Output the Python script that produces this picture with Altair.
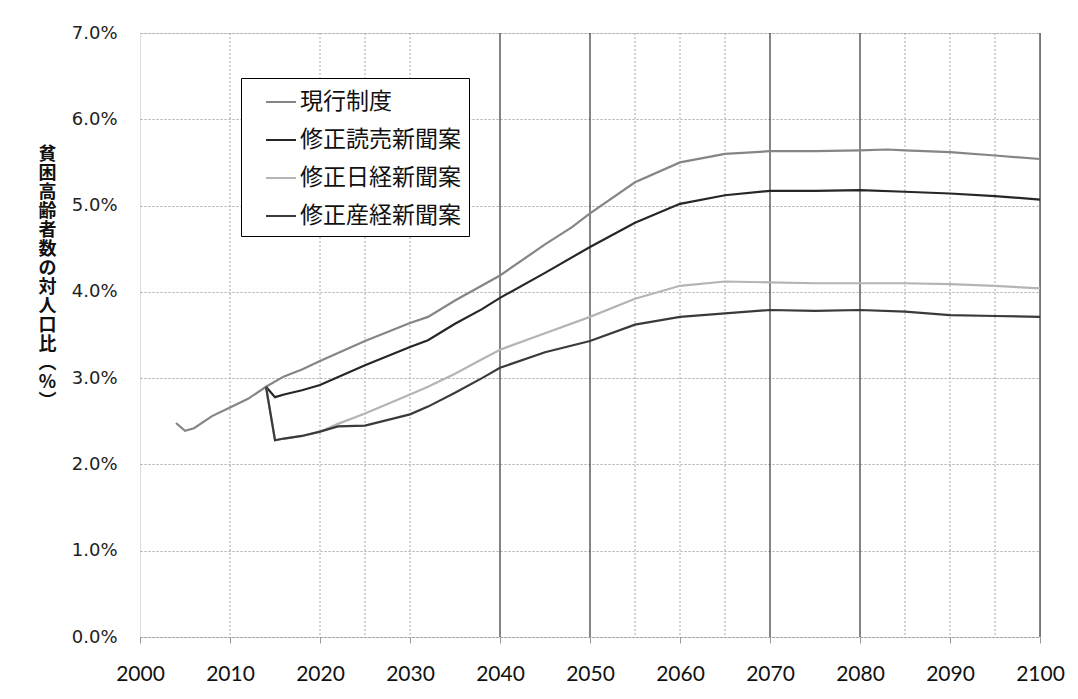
import altair as alt
import pandas as pd

series_names = ["現行制度", "修正読売新聞案", "修正日経新聞案", "修正産経新聞案"]
series_colors = ["#858585", "#262626", "#b4b4b4", "#3a3a3a"]

current_years = [2004, 2005, 2006, 2008, 2010, 2012, 2014, 2016, 2018, 2020, 2025, 2030, 2032, 2035,
                 2040, 2045, 2048, 2050, 2055, 2060, 2065, 2070, 2075, 2080, 2083, 2085, 2090, 2095, 2100]
current_vals = [2.48, 2.39, 2.42, 2.56, 2.66, 2.76, 2.90, 3.02, 3.10, 3.20, 3.43, 3.64, 3.71, 3.90,
                4.19, 4.55, 4.75, 4.91, 5.27, 5.50, 5.60, 5.63, 5.63, 5.64, 5.65, 5.64, 5.62, 5.58, 5.54]

yomiuri_years = [2014, 2015, 2016, 2018, 2020, 2025, 2030, 2032, 2035, 2038, 2040, 2045, 2050,
                 2055, 2060, 2065, 2070, 2075, 2080, 2085, 2090, 2095, 2100]
yomiuri_vals = [2.90, 2.78, 2.81, 2.86, 2.92, 3.15, 3.36, 3.44, 3.63, 3.80, 3.93, 4.22, 4.52,
                4.80, 5.02, 5.12, 5.17, 5.17, 5.18, 5.16, 5.14, 5.11, 5.07]

nikkei_years = [2014, 2015, 2016, 2018, 2020, 2022, 2025, 2030, 2032, 2035, 2038, 2040, 2045, 2050,
                2055, 2060, 2065, 2070, 2075, 2080, 2085, 2090, 2095, 2100]
nikkei_vals = [2.90, 2.28, 2.30, 2.33, 2.38, 2.47, 2.59, 2.81, 2.90, 3.05, 3.22, 3.33, 3.52, 3.71,
               3.92, 4.07, 4.12, 4.11, 4.10, 4.10, 4.10, 4.09, 4.07, 4.04]

sankei_years = [2014, 2015, 2016, 2018, 2020, 2022, 2025, 2030, 2032, 2035, 2038, 2040, 2045, 2050,
                2055, 2060, 2065, 2070, 2075, 2080, 2085, 2090, 2095, 2100]
sankei_vals = [2.90, 2.28, 2.30, 2.33, 2.38, 2.44, 2.45, 2.58, 2.67, 2.83, 3.00, 3.12, 3.30, 3.43,
               3.62, 3.71, 3.75, 3.79, 3.78, 3.79, 3.77, 3.73, 3.72, 3.71]

x_ticks = [2000, 2010, 2020, 2030, 2040, 2050, 2060, 2070, 2080, 2090, 2100]
y_ticks = [0, 1, 2, 3, 4, 5, 6, 7]
grid_light_years = [2010, 2020, 2025, 2030, 2055, 2060, 2065, 2085, 2090, 2095]
grid_dark_years = [2040, 2050, 2070, 2080, 2100]

y_title = list("貧困高齢者数の対人口比") + ["︵", "%", "︶"]

rows = []
for name, ys, vs in [
    (series_names[0], current_years, current_vals),
    (series_names[1], yomiuri_years, yomiuri_vals),
    (series_names[2], nikkei_years, nikkei_vals),
    (series_names[3], sankei_years, sankei_vals),
]:
    for y, v in zip(ys, vs):
        rows.append({"series": name, "year": y, "value": v})
df = pd.DataFrame(rows)

x_scale = alt.Scale(domain=[2000, 2100], nice=False, zero=False)
y_scale = alt.Scale(domain=[0, 7], nice=False)

light_grid = alt.Chart(pd.DataFrame({"year": grid_light_years})).mark_rule(
    color="#a8a8a8", strokeWidth=1, strokeDash=[2, 2]
).encode(x=alt.X("year:Q", scale=x_scale))

dark_grid = alt.Chart(pd.DataFrame({"year": grid_dark_years})).mark_rule(
    color="#333333", strokeWidth=1.2
).encode(x=alt.X("year:Q", scale=x_scale))

lines = alt.Chart(df).mark_line(strokeWidth=2.2).encode(
    x=alt.X(
        "year:Q",
        scale=x_scale,
        axis=alt.Axis(
            values=x_ticks,
            format="d",
            title=None,
            grid=False,
            labelFont="Lato",
            labelFontSize=21,
            labelColor="#111",
            labelPadding=20,
            tickSize=6,
            tickColor="#999",
            domainColor="#999",
            domainDash=[2, 2],
            labelFlush=False,
        ),
    ),
    y=alt.Y(
        "value:Q",
        scale=y_scale,
        axis=alt.Axis(
            values=y_ticks,
            labelExpr="format(datum.value, '.1f') + '%'",
            title=y_title,
            titleAngle=0,
            titleAlign="center",
            titleBaseline="top",
            titleX=-93,
            titleY=112,
            titleFont="Noto Sans CJK JP",
            titleFontSize=18,
            titleFontWeight="bold",
            titleLineHeight=19,
            titleColor="#111",
            labelFont="DejaVu Sans",
            labelFontSize=18,
            labelColor="#222",
            labelPadding=23,
            tickSize=0,
            domain=False,
            grid=True,
            gridColor="#aaaaaa",
            gridDash=[2, 2],
            gridWidth=1,
        ),
    ),
    color=alt.Color(
        "series:N",
        scale=alt.Scale(domain=series_names, range=series_colors),
        legend=alt.Legend(
            orient="none",
            legendX=101,
            legendY=45,
            title=None,
            strokeColor="black",
            fillColor="white",
            padding=8,
            symbolType="stroke",
            symbolSize=900,
            symbolStrokeWidth=2,
            symbolOffset=16,
            labelOffset=3,
            labelFont="Noto Sans CJK JP",
            labelFontSize=23,
            labelColor="#111",
            rowPadding=10,
            labelLimit=400,
        ),
    ),
)

chart = alt.layer(light_grid, dark_grid, lines).properties(
    width=900,
    height=604,
    padding={"left": 132, "top": 25, "right": 30, "bottom": 55},
    autosize=alt.AutoSizeParams(type="none"),
).configure_view(stroke="#999999", strokeWidth=1).configure(background="white")

chart.save("out.html", embed_options={"renderer": "svg", "actions": False})
